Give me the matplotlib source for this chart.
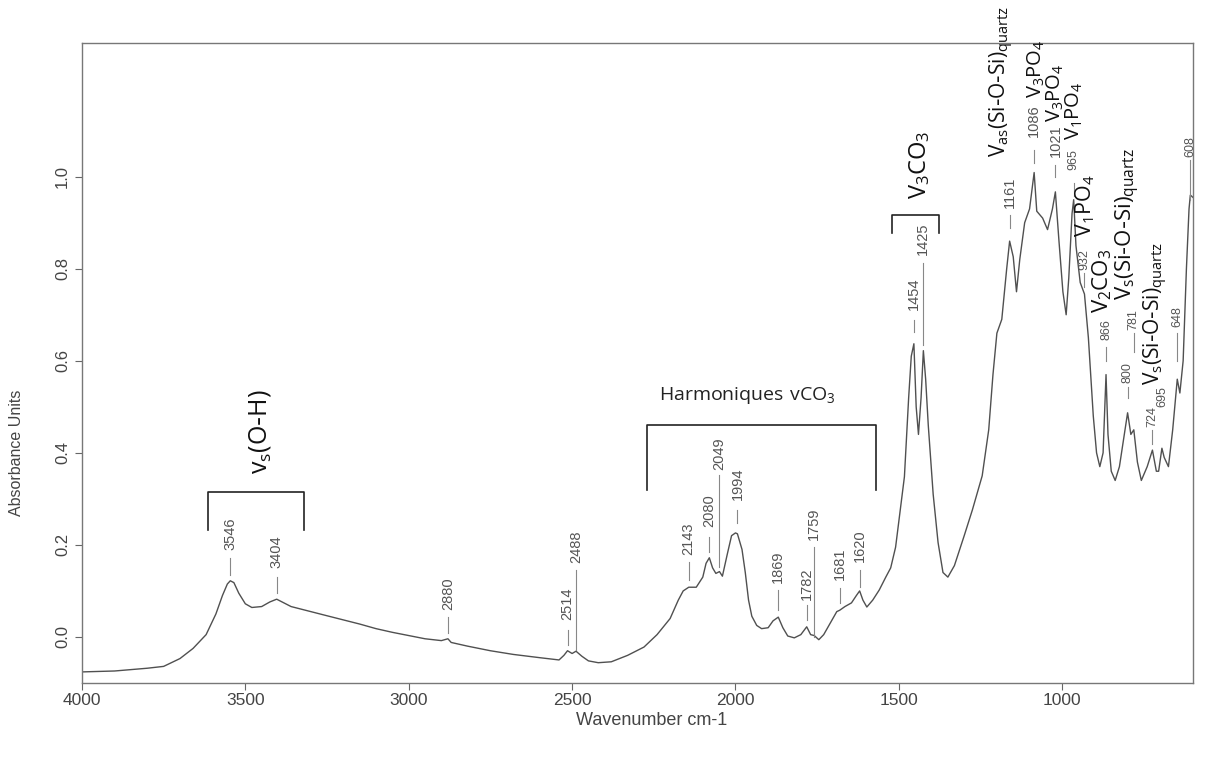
import matplotlib
matplotlib.use("Agg")
import matplotlib.pyplot as plt

# FTIR spectrum (cm-1, absorbance units)
wavenumber = [4000, 3900, 3800, 3750, 3700, 3660, 3620, 3590, 3570, 3555, 3546, 3535,
              3520, 3500, 3480, 3450, 3425, 3404, 3385, 3360, 3300, 3250, 3200, 3150,
              3100, 3050, 3000, 2950, 2900, 2880, 2870, 2820, 2750, 2680, 2600, 2540,
              2525, 2514, 2500, 2488, 2470, 2450, 2420, 2380, 2330, 2280, 2240, 2200,
              2175, 2160, 2143, 2120, 2100, 2090, 2080, 2070, 2060, 2049, 2040, 2025,
              2012, 2000, 1994, 1980, 1970, 1960, 1950, 1935, 1920, 1900, 1885, 1869,
              1855, 1840, 1820, 1800, 1782, 1770, 1759, 1745, 1730, 1710, 1690, 1681,
              1665, 1645, 1630, 1620, 1610, 1598, 1580, 1560, 1540, 1525, 1510, 1495,
              1483, 1470, 1462, 1454, 1447, 1440, 1432, 1425, 1418, 1410, 1395, 1380,
              1365, 1350, 1330, 1300, 1275, 1245, 1225, 1212, 1200, 1185, 1170, 1161,
              1150, 1140, 1130, 1115, 1100, 1086, 1078, 1060, 1045, 1030, 1021, 1010,
              998, 988, 980, 970, 965, 958, 945, 932, 920, 905, 895, 885, 875, 866,
              860, 850, 838, 825, 810, 800, 790, 781, 770, 758, 740, 724, 712, 705,
              695, 688, 675, 662, 648, 640, 630, 620, 612, 608, 600]
absorbance = [-0.076, -0.074, -0.068, -0.064, -0.047, -0.025, 0.005, 0.050, 0.090, 0.115, 0.122, 0.118,
              0.095, 0.072, 0.064, 0.066, 0.076, 0.082, 0.075, 0.066, 0.055, 0.046, 0.037, 0.028,
              0.018, 0.010, 0.003, -0.004, -0.008, -0.004, -0.012, -0.020, -0.030, -0.038, -0.045, -0.050,
              -0.040, -0.030, -0.036, -0.031, -0.042, -0.052, -0.056, -0.054, -0.040, -0.022, 0.005, 0.040,
              0.080, 0.100, 0.108, 0.108, 0.130, 0.160, 0.172, 0.150, 0.138, 0.142, 0.132, 0.180,
              0.220, 0.226, 0.224, 0.190, 0.140, 0.080, 0.045, 0.025, 0.018, 0.020, 0.035, 0.043,
              0.020, 0.002, -0.002, 0.005, 0.022, 0.005, 0.003, -0.006, 0.005, 0.030, 0.055, 0.058,
              0.066, 0.074, 0.090, 0.100, 0.080, 0.065, 0.080, 0.102, 0.130, 0.150, 0.195, 0.280,
              0.348, 0.520, 0.610, 0.637, 0.500, 0.440, 0.520, 0.622, 0.560, 0.460, 0.310, 0.205,
              0.140, 0.130, 0.155, 0.220, 0.276, 0.350, 0.450, 0.570, 0.660, 0.690, 0.800, 0.860,
              0.826, 0.750, 0.820, 0.900, 0.930, 1.009, 0.925, 0.910, 0.885, 0.930, 0.967, 0.860,
              0.750, 0.700, 0.780, 0.920, 0.950, 0.850, 0.770, 0.745, 0.650, 0.480, 0.400, 0.370, 0.400, 0.570,
              0.440, 0.360, 0.340, 0.370, 0.440, 0.487, 0.440, 0.450, 0.380, 0.340, 0.370, 0.406, 0.360, 0.360,
              0.410, 0.390, 0.370, 0.450, 0.560, 0.530, 0.600, 0.800, 0.930, 0.960, 0.955]

# peak labels (cm-1)
peaks = [3546, 3404, 2880, 2514, 2488, 2143, 2080, 2049, 1994, 1869, 1782, 1759,
         1681, 1620, 1454, 1425, 1161, 1086, 1021, 965, 932, 866, 800, 781, 724, 695, 648, 608]
# marker line bottom / top and text bottom for each label (absorbance units)
tick_lo = [0.135, 0.096, 0.009, -0.017, -0.028, 0.124, 0.185, 0.152, 0.248, 0.059, 0.037, 0.000,
           0.074, 0.109, 0.663, 0.635, 0.889, 1.030, 1.000, 0.957, 0.761, 0.600, 0.520, 0.620, 0.420, None, 0.600, 0.950]
tick_hi = [0.172, 0.130, 0.043, 0.015, 0.146, 0.163, 0.217, 0.352, 0.276, 0.102, 0.070, 0.196,
           0.107, 0.146, 0.689, 0.813, 0.917, 1.059, 1.026, 0.987, 0.791, 0.630, 0.543, 0.660, 0.450, None, 0.660, 1.037]
text_y = [0.189, 0.150, 0.059, 0.037, 0.161, 0.178, 0.239, 0.363, 0.298, 0.117, 0.080, 0.211,
          0.124, 0.163, 0.711, 0.830, 0.933, 1.087, 1.043, 1.015, 0.798, 0.646, 0.552, 0.667, 0.457, 0.500, 0.674, 1.043]
small_font = [965, 932, 866, 800, 781, 724, 695, 648, 608]

# assignment labels: text, wavenumber, absorbance (bottom of rotated text)
groups = [r"$\mathregular{V_{as}(Si\text{-}O\text{-}Si)_{quartz}}$",
          r"$\mathregular{V_3PO_4}$", r"$\mathregular{V_3PO_4}$",
          r"$\mathregular{V_1PO_4}$", r"$\mathregular{V_1PO_4}$",
          r"$\mathregular{V_2CO_3}$",
          r"$\mathregular{V_s(Si\text{-}O\text{-}Si)_{quartz}}$",
          r"$\mathregular{V_s(Si\text{-}O\text{-}Si)_{quartz}}$"]
group_x = [1186, 1080, 1022, 962, 929, 877, 799, 712]
group_y = [1.043, 1.170, 1.118, 1.080, 0.870, 0.704, 0.733, 0.548]
group_size = [15, 14.5, 14.5, 14.5, 15.5, 16, 16, 15]

fig = plt.figure(figsize=(12.05, 7.58), dpi=100)
ax = fig.add_axes([0.068, 0.099, 0.922, 0.844])

ax.plot(wavenumber, absorbance, color="#505050", lw=1.0)

ax.set_xlim(4000, 600)
ax.set_ylim(-0.1, 1.29)
ax.set_xticks([4000, 3500, 3000, 2500, 2000, 1500, 1000])
ax.set_yticks([0.0, 0.2, 0.4, 0.6, 0.8, 1.0])
ax.set_yticklabels(["0.0", "0.2", "0.4", "0.6", "0.8", "1.0"], rotation=90, va="center")
ax.tick_params(direction="out", length=5, color="#666666", labelcolor="#444444")
ax.tick_params(axis="x", labelsize=12.5, pad=2)
ax.tick_params(axis="y", labelsize=12)
for lab in ax.get_xticklabels() + ax.get_yticklabels():
    lab.set_family("Liberation Sans")
for sp in ax.spines.values():
    sp.set_color("#777777")
    sp.set_linewidth(1.0)
ax.set_xlabel("Wavenumber cm-1", family="Liberation Sans", fontsize=13, color="#444444")
ax.set_ylabel("Absorbance Units", family="Liberation Sans", fontsize=11.5, color="#444444")
ax.xaxis.set_label_coords(0.513, -0.046)
ax.yaxis.set_label_coords(-0.052, 0.36)

for wn, lo, hi, ty in zip(peaks, tick_lo, tick_hi, text_y):
    if lo is not None:
        ax.plot([wn, wn], [lo, hi], color="#888888", lw=0.8)
    size = 9 if wn in small_font else 10.5
    ax.text(wn, ty, str(wn), family="Liberation Sans", fontsize=size, color="#555555",
            rotation=90, ha="center", va="bottom")

for t, gx, gy, gs in zip(groups, group_x, group_y, group_size):
    ax.text(gx, gy, t, family="Open Sans", fontsize=gs, color="#111111", rotation=90,
            ha="center", va="bottom", clip_on=False)

# brackets
ax.plot([3615, 3615, 3321, 3321], [0.233, 0.315, 0.315, 0.233], color="#222222", lw=1.2)
ax.text(3456, 0.446, r"$\mathregular{v_s(O\text{-}H)}$", family="Open Sans", fontsize=18,
        rotation=90, ha="center", va="center", color="#111111")
ax.plot([2272, 2272, 1569, 1569], [0.320, 0.461, 0.461, 0.320], color="#222222", lw=1.2)
ax.text(1963, 0.524, r"$\mathregular{Harmoniques\ vCO_3}$", family="Open Sans", fontsize=14,
        ha="center", va="center", color="#222222")
ax.plot([1520, 1520, 1376, 1376], [0.878, 0.917, 0.917, 0.878], color="#222222", lw=1.2)
ax.text(1437, 1.026, r"$\mathregular{V_3CO_3}$", family="Open Sans", fontsize=17,
        rotation=90, ha="center", va="center", color="#111111")

fig.savefig("out.png", dpi=100)
